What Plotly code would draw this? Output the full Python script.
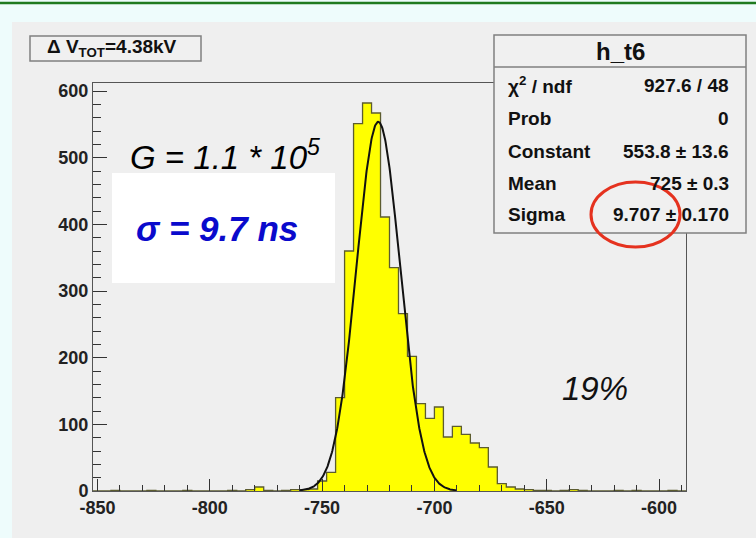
import plotly.graph_objects as go
import numpy as np

# ---------------- data ----------------
bin_low = -852
bin_width = 4
counts = [0, 0, 1, 0, 0, 0, 1, 0, 0, 0, 1, 0, 0, 0, 0, 1, 0, 2, 6, 1,
          0, 1, 2, 2, 3, 15, 28, 140, 360, 551, 582, 567, 411, 335, 266, 202,
          131, 109, 126, 81, 97, 85, 72, 65, 36, 11, 6, 3, 2, 1, 1, 0, 1, 2,
          1, 0, 0, 0, 1, 0, 1, 0, 0, 0, 1, 0]

fit_constant = 553.8
fit_mean = -725.0
fit_sigma = 9.707
fit_range = [-760, -690]

x_tick_vals = [-850, -800, -750, -700, -650, -600]
x_tick_text = ["-850", "-800", "-750", "-700", "-650", "-600"]
y_tick_vals = [0, 100, 200, 300, 400, 500, 600]
y_tick_text = ["0", "100", "200", "300", "400", "500", "600"]

stats_labels = ["χ<sup>2</sup> / ndf", "Prob", "Constant", "Mean", "Sigma"]
stats_values = ["927.6 / 48", "0", "553.8 ± 13.6", "725 ± 0.3", "9.707 ± 0.170"]

# ---------------- layout helpers ----------------
W, H = 756, 538
L, R, T, B = 93, 686, 83, 491
def px(x):
    return (x - L) / (R - L)
def py(y):
    return (B - y) / (B - T)

edges = [bin_low + bin_width * i for i in range(len(counts) + 1)]
hist_y = counts + [counts[-1]]

fx = np.linspace(fit_range[0], fit_range[1], 400)
fy = fit_constant * np.exp(-0.5 * ((fx - fit_mean) / fit_sigma) ** 2)

fig = go.Figure()
fig.add_trace(go.Scatter(
    x=edges, y=hist_y, mode="lines", line=dict(shape="hv", color="#5c5c30", width=1.3),
    fill="tozeroy", fillcolor="#ffff00", hoverinfo="skip"))
fig.add_trace(go.Scatter(
    x=fx, y=fy, mode="lines", line=dict(color="#111111", width=2), hoverinfo="skip"))

font_main = "Liberation Sans, Arial, Helvetica, sans-serif"

shapes = [
    # grey ROOT canvas
    dict(type="rect", xref="paper", yref="paper", x0=px(12), x1=px(W + 5), y0=py(H + 5), y1=py(22),
         fillcolor="#efefef", line=dict(width=0), layer="below"),
    # top green line
    dict(type="line", xref="paper", yref="paper", x0=px(0), x1=px(W), y0=py(3), y1=py(3),
         line=dict(color="#1f7a1f", width=2.5), layer="below"),
    # white box behind sigma text
    dict(type="rect", xref="paper", yref="paper", x0=px(112), x1=px(335), y0=py(283), y1=py(173),
         fillcolor="#ffffff", line=dict(width=0), layer="below"),
    # label box
    dict(type="rect", xref="paper", yref="paper", x0=px(30), x1=px(201), y0=py(61), y1=py(36),
         fillcolor="#f0f0f0", line=dict(color="#808080", width=1.5), layer="above"),
    # stats box
    dict(type="rect", xref="paper", yref="paper", x0=px(494), x1=px(746), y0=py(233), y1=py(35),
         fillcolor="#f0f0f0", line=dict(color="#808080", width=1.5), layer="above"),
    dict(type="line", xref="paper", yref="paper", x0=px(494), x1=px(746), y0=py(67), y1=py(67),
         line=dict(color="#808080", width=1.5), layer="above"),
    # red ellipse
    dict(type="circle", xref="paper", yref="paper", x0=px(591), x1=px(680), y0=py(247), y1=py(182),
         line=dict(color="#e5321f", width=3), layer="above"),
]

annotations = [
    dict(text="<b>Δ V<sub>TOT</sub>=4.38kV</b>", x=px(112), y=py(48), xref="paper", yref="paper",
         showarrow=False, font=dict(family=font_main, size=19, color="#111"), xanchor="center", yanchor="middle"),
    dict(text="<b>h_t6</b>", x=px(620), y=py(51), xref="paper", yref="paper",
         showarrow=False, font=dict(family=font_main, size=24, color="#111"), xanchor="center", yanchor="middle"),
    dict(text="<i>G = 1.1 * 10<sup>5</sup></i>", x=px(128), y=py(155), xref="paper", yref="paper",
         showarrow=False, font=dict(family=font_main, size=33, color="#000"), xanchor="left", yanchor="middle"),
    dict(text="<b><i>σ = 9.7 ns</i></b>", x=px(217), y=py(229), xref="paper", yref="paper",
         showarrow=False, font=dict(family=font_main, size=35, color="#0a0acc"), xanchor="center", yanchor="middle"),
    dict(text="<i>19%</i>", x=px(595), y=py(388), xref="paper", yref="paper",
         showarrow=False, font=dict(family=font_main, size=33, color="#111"), xanchor="center", yanchor="middle"),
]
row_y = [85, 118, 151, 183, 214]
for lab, val, yy in zip(stats_labels, stats_values, row_y):
    annotations.append(dict(text="<b>" + lab + "</b>", x=px(506), y=py(yy), xref="paper", yref="paper",
                            showarrow=False, font=dict(family=font_main, size=19, color="#111"),
                            xanchor="left", yanchor="middle"))
    annotations.append(dict(text="<b>" + val + "</b>", x=px(731), y=py(yy), xref="paper", yref="paper",
                            showarrow=False, font=dict(family=font_main, size=19, color="#111"),
                            xanchor="right", yanchor="middle"))

fig.update_layout(
    width=W, height=H,
    margin=dict(l=L, r=W - R, t=T, b=H - B, pad=0),
    paper_bgcolor="#eefcfc",
    plot_bgcolor="rgba(0,0,0,0)",
    showlegend=False,
    hovermode=False,
    shapes=shapes,
    annotations=annotations,
    xaxis=dict(range=[bin_low, edges[-1]], showgrid=False, zeroline=False,
               tickmode="array", tickvals=x_tick_vals, ticktext=x_tick_text,
               ticks="inside", ticklen=12, tickwidth=1, tickcolor="#333",
               showline=True, linecolor="#555", linewidth=1, mirror=True,
               tickfont=dict(family=font_main, size=18, color="#222", weight="bold"),
               minor=dict(tickmode="linear", tick0=-850, dtick=10, ticks="inside", ticklen=6,
                          tickcolor="#333", showgrid=False)),
    yaxis=dict(range=[0, 612], showgrid=False, zeroline=False,
               tickmode="array", tickvals=y_tick_vals, ticktext=y_tick_text,
               ticks="inside", ticklen=14, tickwidth=1, tickcolor="#333",
               showline=True, linecolor="#555", linewidth=1, mirror=True,
               tickfont=dict(family=font_main, size=18, color="#222", weight="bold"),
               minor=dict(tickmode="linear", tick0=0, dtick=20, ticks="inside", ticklen=8,
                          tickcolor="#333", showgrid=False)),
)

fig.write_html("out.html")
